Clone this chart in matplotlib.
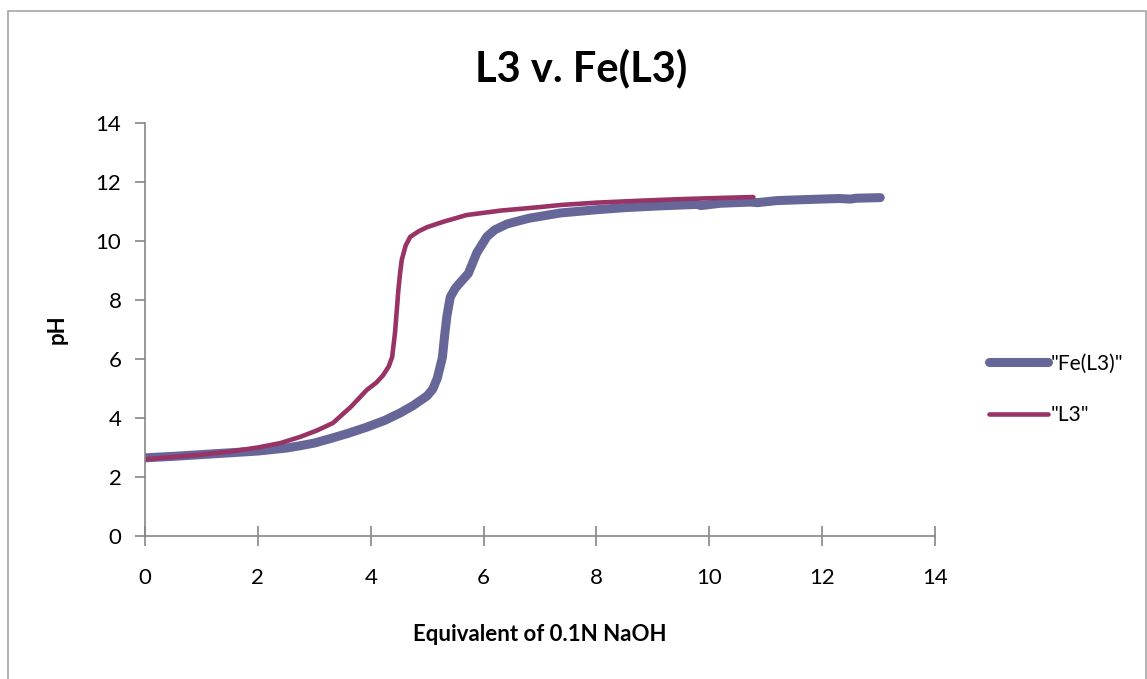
import matplotlib.pyplot as plt
from matplotlib.patches import Rectangle

plt.rcParams['font.family'] = ['Lato', 'DejaVu Sans']

# Fe(L3) titration curve
fe_x = [0.0, 0.5, 1.0, 1.5, 2.0, 2.5, 2.75, 3.0, 3.28, 3.6, 3.93, 4.25, 4.52, 4.75, 5.0,
        5.1, 5.18, 5.27, 5.31, 5.35, 5.41, 5.5, 5.59, 5.73, 5.88, 6.06, 6.2, 6.42, 6.8,
        7.36, 8.0, 8.5, 9.0, 9.5, 9.79, 9.85, 10.2, 10.73, 10.85, 11.2, 11.8, 12.3,
        12.5, 12.6, 13.03]
fe_y = [2.65, 2.7, 2.76, 2.82, 2.88, 2.98, 3.06, 3.15, 3.3, 3.48, 3.69, 3.92, 4.17, 4.42, 4.75,
        4.98, 5.35, 6.05, 6.8, 7.45, 8.1, 8.4, 8.6, 8.9, 9.6, 10.15, 10.38, 10.58, 10.77,
        10.95, 11.06, 11.13, 11.18, 11.22, 11.24, 11.2, 11.28, 11.32, 11.3, 11.37, 11.41, 11.44,
        11.42, 11.45, 11.47]

# L3 titration curve
l3_x = [0.0, 0.5, 1.0, 1.5, 2.0, 2.4, 2.75, 3.05, 3.33, 3.65, 3.93, 4.1, 4.22, 4.32, 4.38,
        4.43, 4.46, 4.49, 4.52, 4.55, 4.62, 4.7, 4.85, 5.0, 5.3, 5.7, 6.3, 7.0, 7.36,
        8.0, 8.7, 9.5, 10.2, 10.78]
l3_y = [2.6, 2.68, 2.76, 2.86, 3.0, 3.15, 3.36, 3.58, 3.83, 4.38, 4.95, 5.2, 5.45, 5.75, 6.07,
        6.88, 7.6, 8.34, 8.9, 9.36, 9.85, 10.14, 10.33, 10.47, 10.66, 10.88, 11.03, 11.15, 11.22,
        11.3, 11.36, 11.42, 11.46, 11.49]

fe_color = '#666699'
l3_color = '#993366'

fig = plt.figure(figsize=(11.47, 6.79), dpi=100)
ax = fig.add_axes([145 / 1147, 1 - 536 / 679, 790 / 1147, 413 / 679])

ax.plot(fe_x, fe_y, color=fe_color, lw=6.5, solid_capstyle='round', solid_joinstyle='round',
        label='"Fe(L3)"')
ax.plot(l3_x, l3_y, color=l3_color, lw=3.3, solid_capstyle='round', solid_joinstyle='round',
        label='"L3"')

ax.set_xlim(0, 14)
ax.set_ylim(0, 14)
ax.set_xticks(range(0, 15, 2))
ax.set_yticks(range(0, 15, 2))
for side in ['top', 'right']:
    ax.spines[side].set_visible(False)
for side in ['left', 'bottom']:
    ax.spines[side].set_color('#868686')
    ax.spines[side].set_linewidth(1.2)
ax.tick_params(axis='both', colors='#868686', labelcolor='black', labelsize=16, length=7, width=1.2)
ax.tick_params(axis='x', direction='inout', length=14, pad=16)
ax.tick_params(axis='y', pad=10)

fig.text(581 / 1147, 1 - 68 / 679, 'L3 v. Fe(L3)', fontsize=30, fontweight='bold',
         ha='center', va='center')
ax.set_xlabel('Equivalent of 0.1N NaOH', fontsize=16, fontweight='bold', labelpad=26)
ax.set_ylabel('pH', fontsize=16, fontweight='bold', labelpad=20)

leg = ax.legend(loc='center left', bbox_to_anchor=(1.045, 0.355), frameon=False, fontsize=15,
                handlelength=2.8, handletextpad=0.15, labelspacing=1.5)

# outer chart border
fig.patches.append(Rectangle((8 / 1147, -0.05), 1138 / 1147, 1.05 - 11 / 679,
                             transform=fig.transFigure, fill=False, edgecolor='#a6a6a6',
                             lw=1.2, clip_on=False))

fig.savefig('out.png', dpi=100)
